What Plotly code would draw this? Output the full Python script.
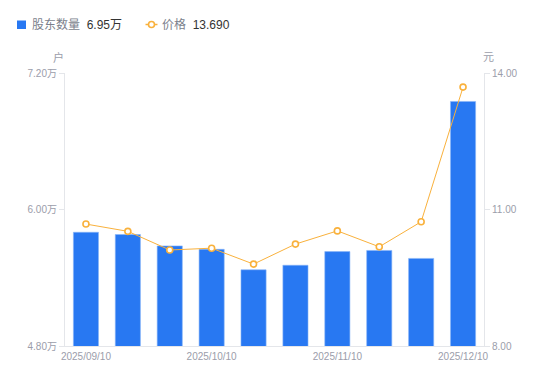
import plotly.graph_objects as go

dates = ["2025/09/10", "2025/09/20", "2025/09/30", "2025/10/10", "2025/10/20",
         "2025/10/31", "2025/11/10", "2025/11/20", "2025/11/28", "2025/12/10"]
holders = [5.80, 5.78, 5.68, 5.65, 5.47, 5.51, 5.63, 5.64, 5.57, 6.95]  # 万户
price = [10.68, 10.52, 10.11, 10.15, 9.80, 10.24, 10.53, 10.18, 10.73, 13.69]
x_ticks = ["2025/09/10", "2025/10/10", "2025/11/10", "2025/12/10"]
left_ticks = [4.80, 6.00, 7.20]
right_ticks = [8.00, 11.00, 14.00]

BLUE = "#2878f2"
ORANGE = "#f9b13c"
TICK = "#9b9daa"
AXIS = "#e4e6ea"
FONT = "Arial, 'Liberation Sans', 'Noto Sans CJK SC', sans-serif"

OFF = 8  # page body margin
W, H = 550 - OFF, 381 - OFF
L, T = 65 - OFF, 73 - OFF
R, B = W - (484 - OFF), H - (346 - OFF)
pw, ph = W - L - R, H - T - B


def px(x):
    return (x - OFF - L) / pw


def py(y):
    return (H - B - (y - OFF)) / ph


fig = go.Figure()
fig.add_trace(go.Bar(x=dates, y=holders, marker=dict(color=BLUE, line=dict(color="#8ab6f8", width=0.6)),
                     width=0.6, yaxis="y", hoverinfo="skip"))
fig.add_trace(go.Scatter(x=dates, y=price, yaxis="y2", mode="lines+markers",
                         line=dict(color=ORANGE, width=1),
                         marker=dict(symbol="circle", size=6, color="white",
                                     line=dict(color=ORANGE, width=1.6)),
                         hoverinfo="skip"))

fig.update_layout(
    width=W, height=H, margin=dict(l=L, r=R, t=T, b=B),
    paper_bgcolor="white", plot_bgcolor="white", showlegend=False,
    font=dict(family=FONT, size=10, color=TICK),
    bargap=0.4,
    xaxis=dict(type="category", range=[-0.5, len(dates) - 0.5], tickvals=x_ticks, ticktext=x_ticks,
               showgrid=False, showline=True, linecolor=AXIS, linewidth=1, ticks="outside",
               ticklen=1, tickcolor="rgba(0,0,0,0)",
               tickfont=dict(size=10, color=TICK), zeroline=False),
    yaxis=dict(range=[left_ticks[0], left_ticks[-1]], tickvals=left_ticks,
               ticktext=[f"{v:.2f}万" for v in left_ticks], showgrid=False,
               showline=True, linecolor=AXIS, linewidth=1, ticks="outside", ticklen=5,
               tickcolor=AXIS, tickfont=dict(size=10, color=TICK), zeroline=False),
    yaxis2=dict(range=[right_ticks[0], right_ticks[-1]], tickvals=right_ticks,
                ticktext=[f"{v:.2f}" for v in right_ticks], overlaying="y", side="right",
                showgrid=False, showline=True, linecolor=AXIS, linewidth=1, ticks="outside",
                ticklen=5, tickcolor=AXIS, tickfont=dict(size=10, color=TICK), zeroline=False),
)

# Unit labels
fig.add_annotation(text="户", xref="paper", yref="paper", x=px(58), y=py(57), showarrow=False,
                   font=dict(size=11, color=TICK), xanchor="center", yanchor="middle")
fig.add_annotation(text="元", xref="paper", yref="paper", x=px(489), y=py(57), showarrow=False,
                   font=dict(size=11, color=TICK), xanchor="center", yanchor="middle")

# Legend (custom)
LY = 24.5
fig.add_shape(type="rect", xref="paper", yref="paper", x0=px(17), x1=px(26), y0=py(20.5), y1=py(29),
              fillcolor=BLUE, line=dict(width=0))
fig.add_annotation(text=f"<span style='color:#7b7f8c'>股东数量</span>  <span style='color:#333333'>{holders[-1]:.2f}万</span>",
                   xref="paper", yref="paper", x=px(30), y=py(LY), showarrow=False,
                   xanchor="left", yanchor="middle", font=dict(size=12))
fig.add_shape(type="line", xref="paper", yref="paper", x0=px(145.5), x1=px(157.5), y0=py(LY), y1=py(LY),
              line=dict(color=ORANGE, width=1.5))
fig.add_shape(type="circle", xref="paper", yref="paper", x0=px(148.5), x1=px(154.5), y0=py(LY - 3), y1=py(LY + 3),
              fillcolor="white", line=dict(color=ORANGE, width=1.6))
fig.add_annotation(text=f"<span style='color:#7b7f8c'>价格</span>  <span style='color:#333333'>{price[-1]:.3f}</span>",
                   xref="paper", yref="paper", x=px(160), y=py(LY), showarrow=False,
                   xanchor="left", yanchor="middle", font=dict(size=12))

fig.write_html("out.html")
